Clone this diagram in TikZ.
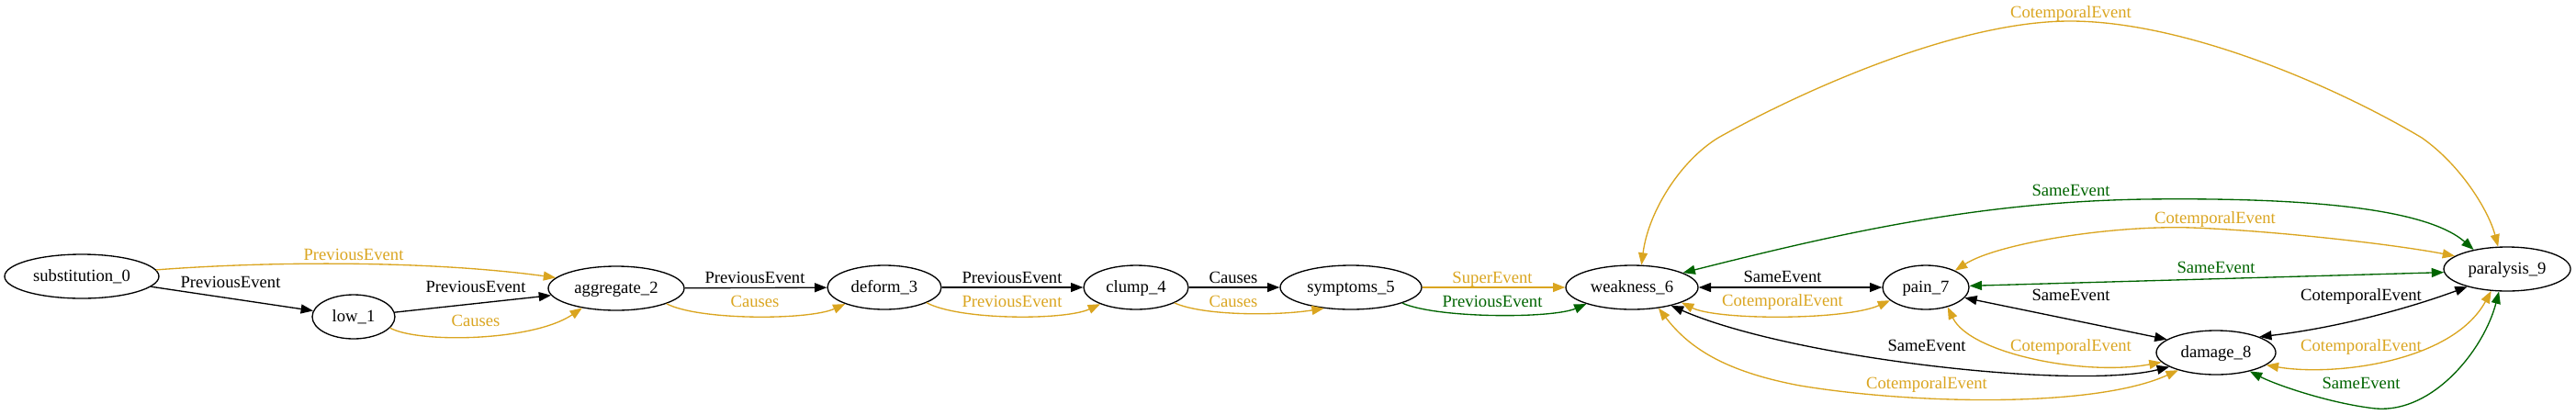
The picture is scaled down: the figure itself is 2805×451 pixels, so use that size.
\documentclass[tikz,border=0pt]{standalone}
\usepackage{fontspec}
\setmainfont{Liberation Serif}
\usetikzlibrary{arrows.meta,shapes.geometric}
\definecolor{gold}{HTML}{DAA520}
\definecolor{dgreen}{HTML}{006400}
\begin{document}
\begin{tikzpicture}[x=0.75pt,y=-0.75pt,
  ev/.style={draw,ellipse,line width=1pt,inner sep=0pt,minimum height=36pt,text height=9.5pt,text depth=1pt,font=\fontsize{14}{16}\selectfont},
  lab/.style={inner sep=0pt,text height=9.5pt,text depth=1pt,font=\fontsize{14}{16}\selectfont},
  con/.style={line width=1pt,-{Triangle[length=10pt,width=7.5pt]}},
  bi/.style={line width=1pt,{Triangle[length=10pt,width=7.5pt]}-{Triangle[length=10pt,width=7.5pt]}},
]
\path[use as bounding box] (0,0) rectangle (2805,451);
% nodes
\node[ev,minimum width=126pt] (s0) at (89,301) {substitution\_0};
\node[ev,minimum width=67.5pt] (l1) at (385,345) {low\_1};
\node[ev,minimum width=111pt] (a2) at (671,314) {aggregate\_2};
\node[ev,minimum width=93pt] (d3) at (963,313) {deform\_3};
\node[ev,minimum width=85.5pt] (c4) at (1237,313) {clump\_4};
\node[ev,minimum width=115.5pt] (y5) at (1471,313) {symptoms\_5};
\node[ev,minimum width=108pt] (w6) at (1777,313) {weakness\_6};
\node[ev,minimum width=70.5pt] (p7) at (2097,313) {pain\_7};
\node[ev,minimum width=97.5pt] (m8) at (2413,384) {damage\_8};
\node[ev,minimum width=103.5pt] (z9) at (2730,293) {paralysis\_9};
% chain edges
\draw[con] (s0) -- (l1);
\draw[con,gold] (s0.5) .. controls (300,284) and (470,284) .. (a2.170);
\draw[con] (l1) -- (a2);
\draw[con,gold] (l1.-17) .. controls (455,374) and (580,372) .. (a2.-150);
\draw[con] (a2) -- (d3);
\draw[con,gold] (a2.-17) .. controls (760,349) and (880,349) .. (d3.-157);
\draw[con] (d3) -- (c4);
\draw[con,gold] (d3.-20) .. controls (1045,349) and (1160,349) .. (c4.-155);
\draw[con] (c4) -- (y5);
\draw[con,gold] (c4.-22) .. controls (1310,344) and (1390,344) .. (y5.-142);
\draw[con,gold] (y5) -- (w6);
\draw[con,dgreen] (y5.-17) .. controls (1565,347) and (1690,347) .. (w6.-160);
% cluster edges
\draw[bi] (w6) -- (p7);
\draw[bi,gold] (w6.-17) .. controls (1870,349) and (2010,349) .. (p7.-160);
\draw[bi,dgreen] (w6.16) .. controls (2000,255) and (2150,220) .. (2335,217) .. controls (2500,215) and (2640,225) .. (z9.150);
\draw[bi,gold] (w6.67) .. controls (1795,230) and (1830,175) .. (1871,150) .. controls (1960,100) and (2130,23) .. (2254,23) .. controls (2380,23) and (2545,95) .. (2637,150) .. controls (2680,180) and (2710,230) .. (z9.112);
\draw[bi,gold] (p7.30) .. controls (2175,265) and (2300,245) .. (2387,248) .. controls (2470,251) and (2600,265) .. (z9.166);
\draw[bi,dgreen] (p7.2) -- (z9.183);
\draw[bi] (p7.-15) -- (m8.165);
\draw[bi] (m8.20) .. controls (2537,358) and (2614,339) .. (z9.-156);
\draw[bi,gold] (p7.-42) .. controls (2145,385) and (2270,410) .. (m8.-170);
\draw[bi] (w6.-25) .. controls (1950,390) and (2260,425) .. (m8.-163);
\draw[bi,gold] (w6.-38) .. controls (1840,380) and (1880,405) .. (1960,420) .. controls (2080,440) and (2280,445) .. (m8.-155);
\draw[bi,gold] (m8.-14) .. controls (2540,410) and (2670,395) .. (z9.-126);
\draw[bi,dgreen] (m8.-29) .. controls (2480,420) and (2540,440) .. (2587,445) .. controls (2650,450) and (2705,380) .. (z9.-110);
% labels
\node[lab] (t1) at (251,308) {PreviousEvent};
\node[lab,text=gold] (t2) at (385,278) {PreviousEvent};
\node[lab] (t3) at (518,313) {PreviousEvent};
\node[lab,text=gold] (t4) at (518,350) {Causes};
\node[lab] (t5) at (822,303) {PreviousEvent};
\node[lab,text=gold] (t6) at (822,329) {Causes};
\node[lab] (t7) at (1102,303) {PreviousEvent};
\node[lab,text=gold] (t8) at (1102,329) {PreviousEvent};
\node[lab] (t9) at (1343,303) {Causes};
\node[lab,text=gold] (t10) at (1343,329) {Causes};
\node[lab,text=gold] (t11) at (1625,303) {SuperEvent};
\node[lab,text=dgreen] (t12) at (1625,329) {PreviousEvent};
\node[lab] (t13) at (1941,302) {SameEvent};
\node[lab,text=gold] (t14) at (1941,328) {CotemporalEvent};
\node[lab,text=dgreen] (t15) at (2255,208) {SameEvent};
\node[lab,text=gold] (t16) at (2255,14) {CotemporalEvent};
\node[lab,text=gold] (t17) at (2412,238) {CotemporalEvent};
\node[lab,text=dgreen] (t18) at (2413,292) {SameEvent};
\node[lab] (t19) at (2255,322) {SameEvent};
\node[lab] (t20) at (2571,322) {CotemporalEvent};
\node[lab,text=gold] (t21) at (2255,377) {CotemporalEvent};
\node[lab] (t22) at (2098,377) {SameEvent};
\node[lab,text=gold] (t23) at (2098,418) {CotemporalEvent};
\node[lab,text=gold] (t24) at (2571,377) {CotemporalEvent};
\node[lab,text=dgreen] (t25) at (2571,418) {SameEvent};
\end{tikzpicture}
\end{document}
